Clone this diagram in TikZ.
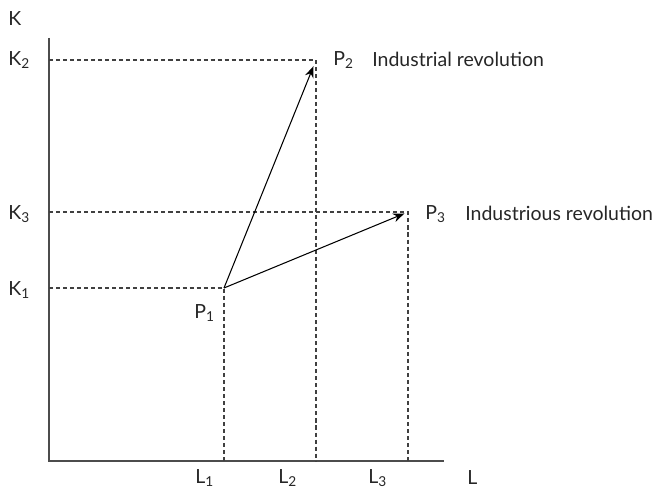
\documentclass[tikz,border=0pt]{standalone}
\usepackage{fontspec}
\setmainfont{Lato}
\usepackage{tikz}
\usetikzlibrary{arrows.meta,positioning,calc}

\begin{document}
\begin{tikzpicture}[
    x=0.02cm, y=-0.02cm,
    axis/.style={line width=0.8pt, black!70},
    guide/.style={line width=0.6pt, black!75, dash pattern=on 2.3pt off 1.7pt},
    move/.style={line width=0.6pt, black, -{Stealth[length=6.5pt, width=5pt]}},
    lbl/.style={font=\fontsize{11.1}{13}\selectfont, inner sep=0pt, anchor=west, text=black!85}
]
\useasboundingbox (0, 0) rectangle (656, 489);
% Axes
\coordinate (O) at (49, 461);
\coordinate (Ktop) at (49, 38);
\coordinate (Lend) at (444, 461);
\draw[axis] (Ktop) -- (O) -- (Lend);
% Points
\coordinate (P1) at (224, 288);
\coordinate (P2) at (316, 60);
\coordinate (P3) at (408, 212);
% Guides to the axes
\coordinate (K1) at (49, 288);
\coordinate (K2) at (49, 60);
\coordinate (K3) at (49, 212);
\coordinate (L1) at (224, 461);
\coordinate (L2) at (316, 461);
\coordinate (L3) at (408, 461);
\draw[guide] (K1) -- (P1) -- (L1);
\draw[guide] (K2) -- (P2) -- (L2);
\draw[guide] (K3) -- (P3) -- (L3);
% Shifts
\draw[move, shorten >=3.8pt] (P1) -- (P2);
\draw[move, shorten >=2.2pt] (P1) -- (P3);
% Axis labels
\node[lbl] (labK) at (8, 19) {K};
\node[lbl] (labK2) at (8, 60) {K\textsubscript{2}};
\node[lbl] (labK3) at (8, 214) {K\textsubscript{3}};
\node[lbl] (labK1) at (8, 290) {K\textsubscript{1}};
\node[lbl] (labL1) at (195, 478) {L\textsubscript{1}};
\node[lbl] (labL2) at (278, 478) {L\textsubscript{2}};
\node[lbl] (labL3) at (368, 478) {L\textsubscript{3}};
\node[lbl] (labL) at (467, 478) {L};
% Point labels
\node[lbl] (labP1) at (194, 313) {P\textsubscript{1}};
\node[lbl] (labP2) at (333, 60) {P\textsubscript{2}};
\node[lbl] (labP3) at (425, 214) {P\textsubscript{3}};
\node[lbl] (ind) at (372, 59) {Industrial revolution};
\node[lbl] (indus) at (465, 213) {Industrious revolution};
\end{tikzpicture}
\end{document}
